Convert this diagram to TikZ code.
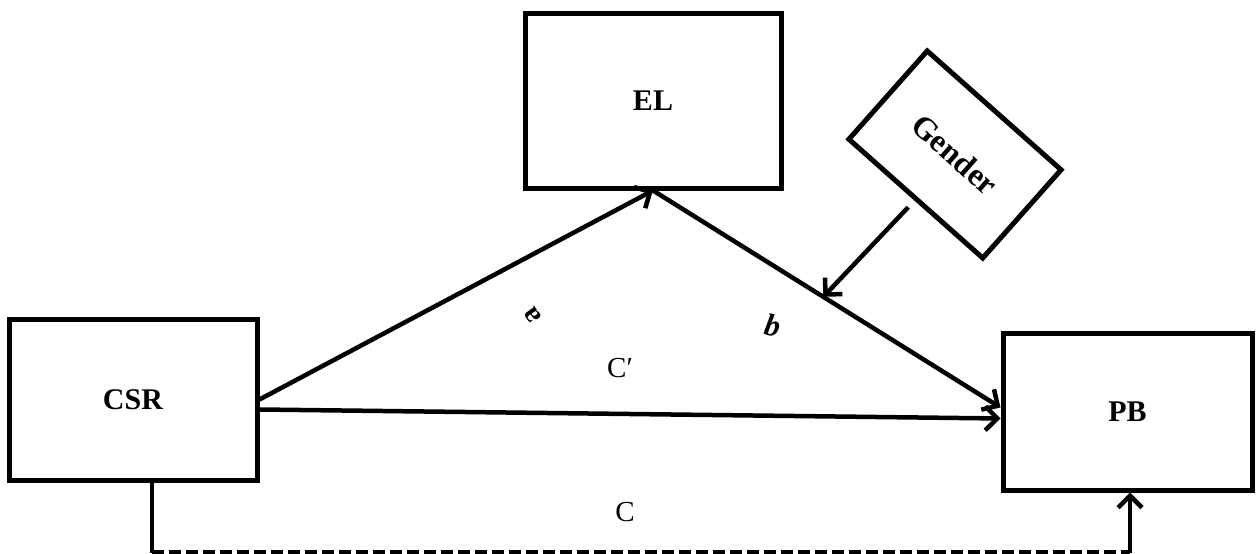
\documentclass[tikz,border=0pt]{standalone}
\usepackage{fontspec}
\setmainfont{Liberation Serif}
\usetikzlibrary{arrows.meta,calc}
\begin{document}
\begin{tikzpicture}[x=1pt,y=-1pt,
  box/.style={draw, line width=5pt, minimum width=#1, inner sep=0pt, font=\fontsize{30}{34}\selectfont\bfseries},
  arr/.style={line width=4.5pt, -{Straight Barb[length=12pt,width=24pt]}},
  lbl/.style={font=\fontsize{29}{33}\selectfont},
  dashline/.style={line width=4.5pt, dash pattern=on 12pt off 5pt}]
\useasboundingbox (0,0) rectangle (1256,554);
\node[box=248pt, minimum height=161pt] (CSR) at (133,399.5) {CSR};
\node[box=256pt, minimum height=175pt] (EL) at (653,100.5) {EL};
\node[box=249pt, minimum height=157pt] (PB) at (1127.5,411.5) {PB};
\node[box=179pt, minimum height=118pt, rotate=-41.6, font=\fontsize{32}{36}\selectfont\bfseries] (G) at (955,154.5) {Gender};
\coordinate (pbin) at ([yshift=4pt]PB.west);
\coordinate (m) at ($(EL.south)!0.49!(pbin)$);
\coordinate (gs) at ($(G.south)!-9pt!(G.center)$);
\draw[arr] (CSR.east) -- (EL.south);
\draw[arr] (EL.south) -- (pbin);
\draw[arr] ([yshift=-10pt]CSR.east) -- ([yshift=-7pt]PB.west);
\draw[arr] (gs) -- (m);
\coordinate (d1) at ([xshift=19pt,yshift=-70pt]CSR.south);
\coordinate (d2) at ([xshift=2.5pt,yshift=-60pt]PB.south);
\draw[line width=4.5pt] ([xshift=19pt]CSR.south) -- (d1);
\draw[dashline] (d1) -- (d2);
\draw[arr] (d2) -- ([xshift=2.5pt]PB.south);
\node[lbl, font=\fontsize{29}{33}\selectfont\bfseries, rotate=125] (la) at (533,315) {a};
\node[lbl, font=\fontsize{31}{34}\selectfont\bfseries\itshape, rotate=-10] (lb) at (773,325) {b};
\node[lbl] (lcp) at (620,368) {C′};
\node[lbl] (lc) at (625,512) {C};
\end{tikzpicture}
\end{document}
